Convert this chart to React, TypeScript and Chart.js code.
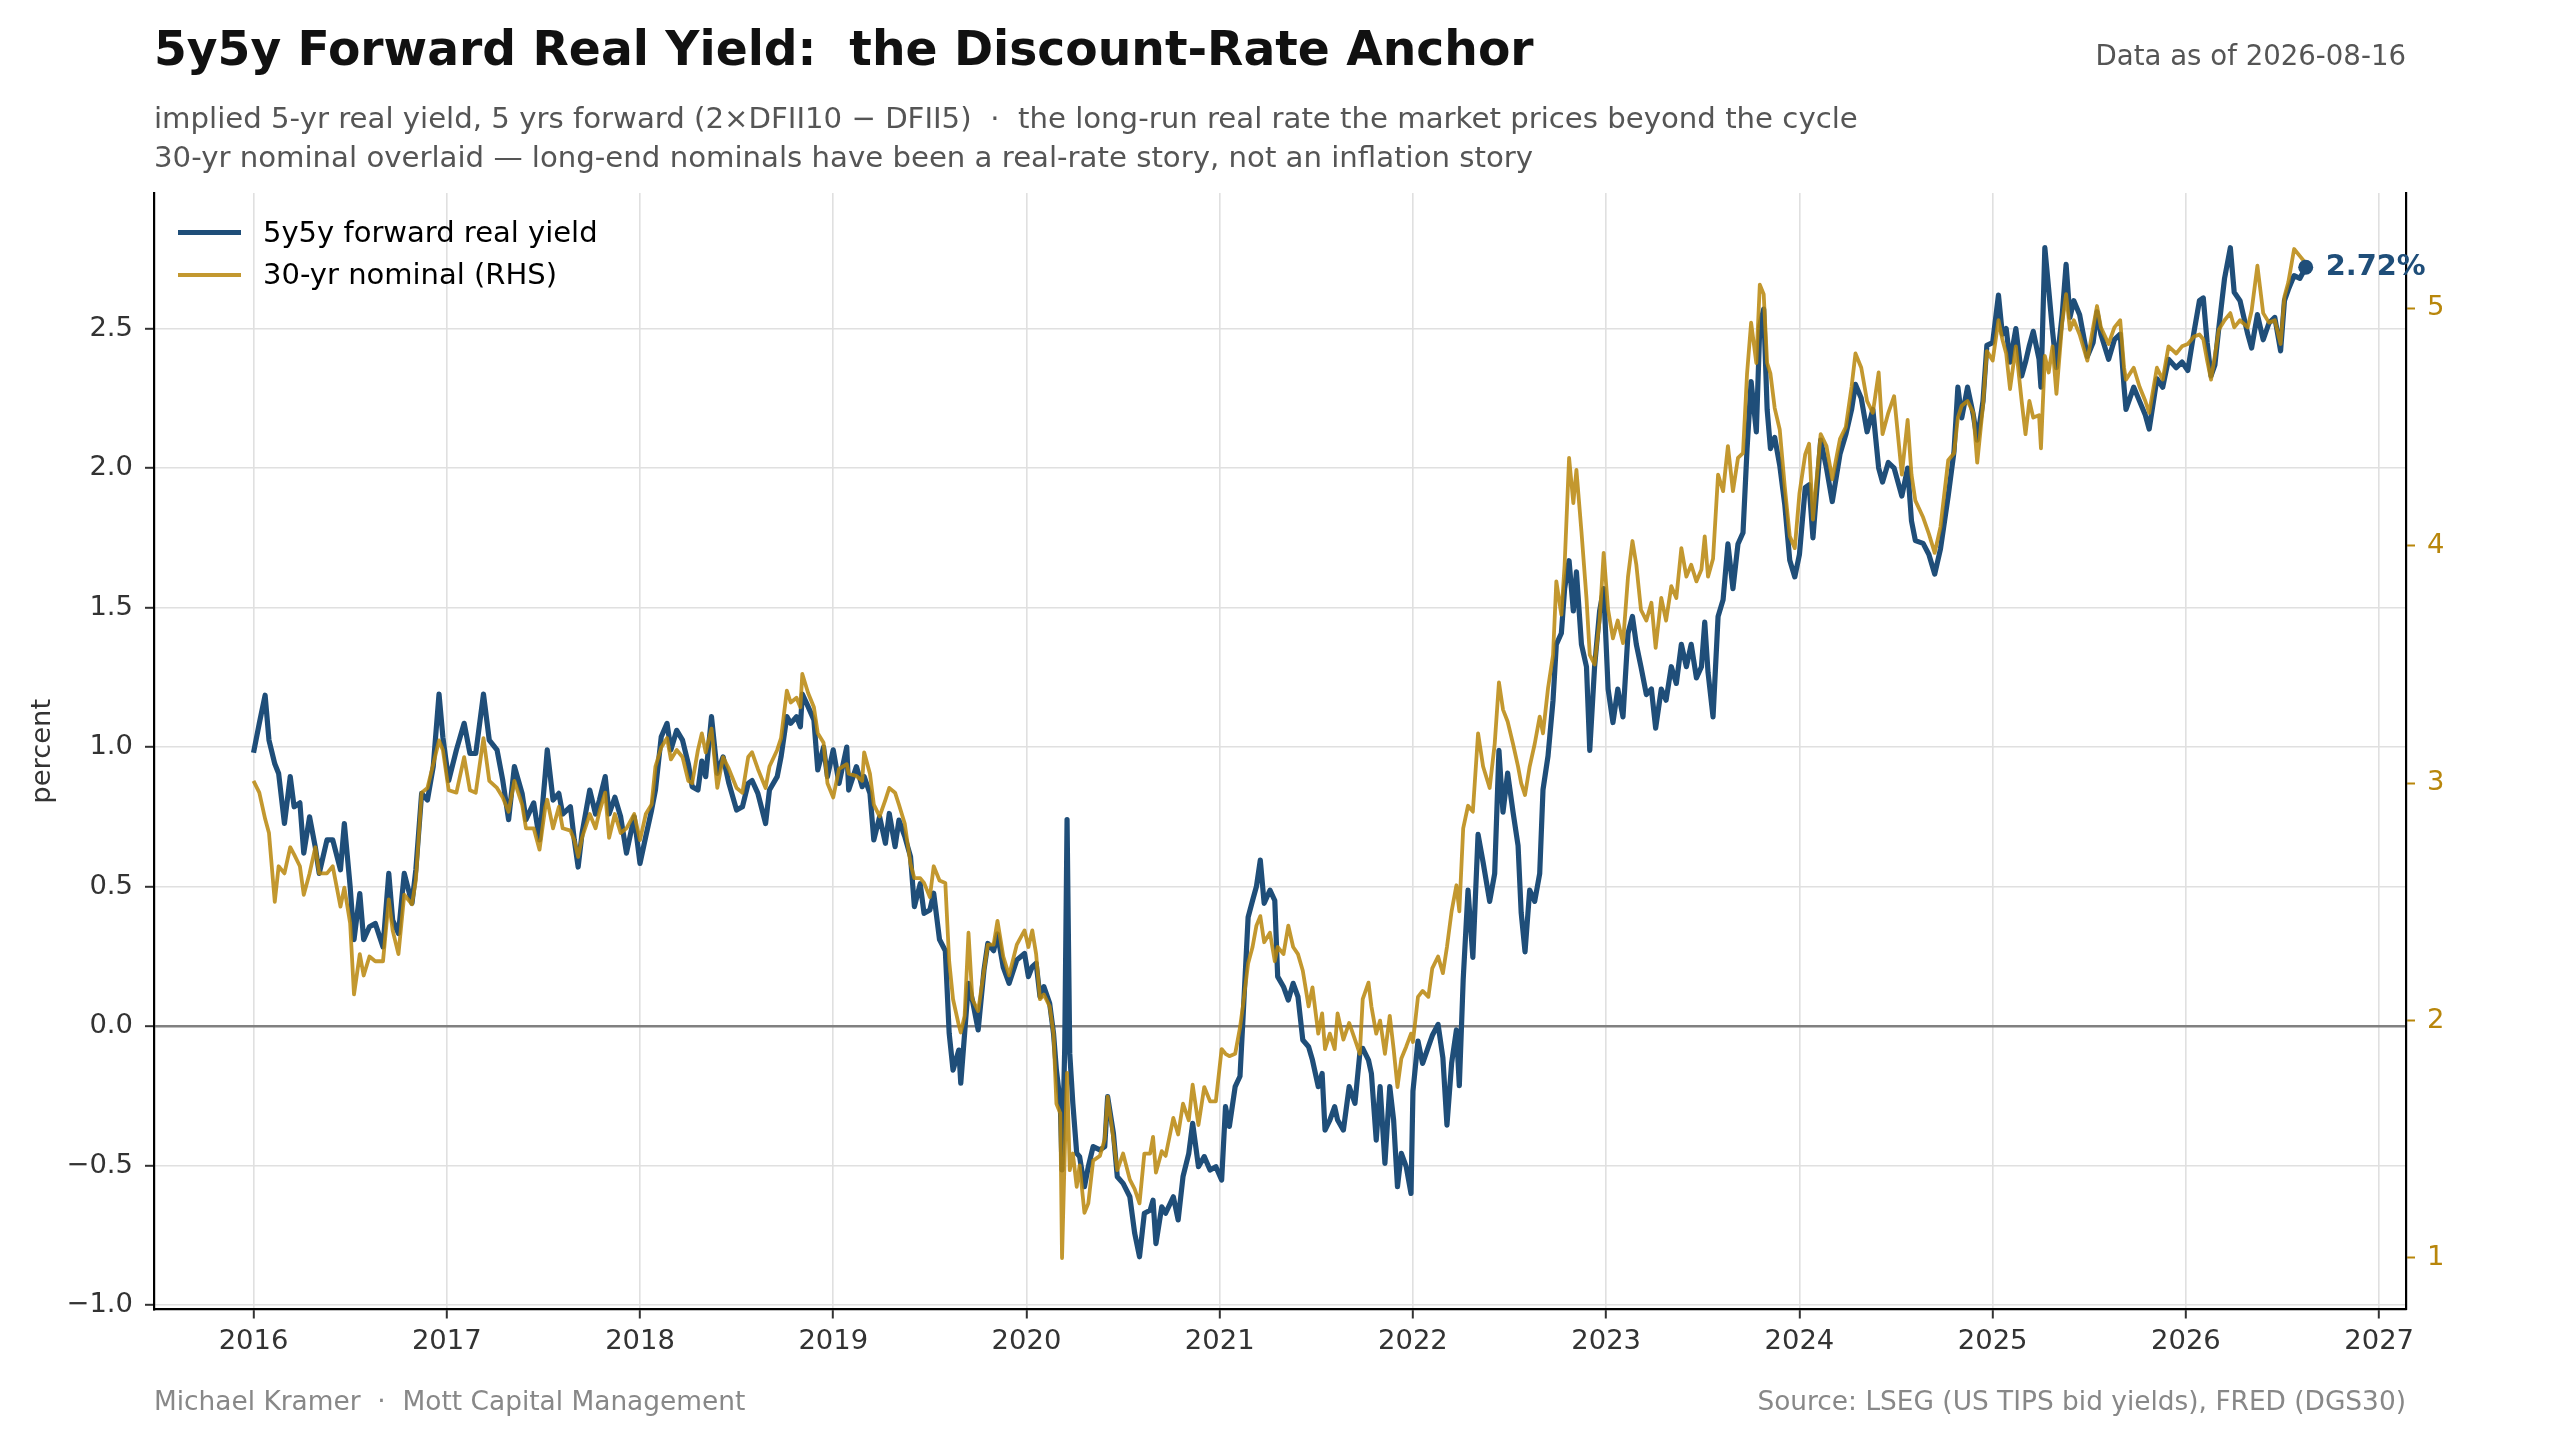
import { useEffect, useRef } from "react";
import { Chart, registerables } from "chart.js";

Chart.register(...registerables);

// decimal years (2016.50 ~ start of July 2016)
const dates = [
  2016.00, 2016.03, 2016.06, 2016.08, 2016.11, 2016.13, 2016.16, 2016.19, 2016.21, 2016.24, 2016.26, 2016.29, 2016.32, 2016.34, 2016.38, 2016.41, 2016.45, 2016.47, 2016.50, 2016.52, 2016.55, 2016.57, 2016.60, 2016.63, 2016.67, 2016.70, 2016.72, 2016.75, 2016.78, 2016.82, 2016.84, 2016.87, 2016.90, 2016.93, 2016.96, 2016.98,
  2017.01, 2017.05, 2017.09, 2017.12, 2017.15, 2017.19, 2017.22, 2017.26, 2017.29, 2017.32, 2017.35, 2017.39, 2017.41, 2017.45, 2017.48, 2017.51, 2017.52, 2017.55, 2017.58, 2017.60, 2017.64, 2017.66, 2017.68, 2017.70, 2017.74, 2017.77, 2017.79, 2017.82, 2017.84, 2017.87, 2017.90, 2017.93, 2017.97,
  2018.00, 2018.03, 2018.06, 2018.08, 2018.11, 2018.14, 2018.16, 2018.19, 2018.22, 2018.25, 2018.27, 2018.30, 2018.32, 2018.34, 2018.37, 2018.40, 2018.43, 2018.46, 2018.50, 2018.53, 2018.56, 2018.58, 2018.61, 2018.65, 2018.67, 2018.71, 2018.73, 2018.76, 2018.78, 2018.81, 2018.83, 2018.84, 2018.87, 2018.90, 2018.92, 2018.95, 2018.97,
  2019.00, 2019.03, 2019.07, 2019.08, 2019.12, 2019.15, 2019.16, 2019.19, 2019.21, 2019.24, 2019.27, 2019.29, 2019.32, 2019.34, 2019.37, 2019.40, 2019.42, 2019.45, 2019.47, 2019.50, 2019.52, 2019.55, 2019.58, 2019.60, 2019.62, 2019.65, 2019.66, 2019.68, 2019.70, 2019.72, 2019.75, 2019.78, 2019.80, 2019.83, 2019.85, 2019.88, 2019.91, 2019.95, 2019.99,
  2020.01, 2020.03, 2020.05, 2020.07, 2020.09, 2020.12, 2020.14, 2020.155, 2020.175, 2020.184, 2020.198, 2020.21, 2020.224, 2020.24, 2020.26, 2020.275, 2020.30, 2020.32, 2020.345, 2020.38, 2020.405, 2020.42, 2020.45, 2020.47, 2020.50, 2020.535, 2020.56, 2020.585, 2020.61, 2020.64, 2020.655, 2020.67, 2020.70, 2020.72, 2020.76, 2020.785, 2020.81, 2020.84, 2020.86, 2020.89, 2020.92, 2020.95, 2020.98,
  2021.01, 2021.03, 2021.05, 2021.08, 2021.105, 2021.12, 2021.147, 2021.17, 2021.19, 2021.21, 2021.23, 2021.26, 2021.285, 2021.30, 2021.33, 2021.355, 2021.38, 2021.405, 2021.43, 2021.46, 2021.48, 2021.51, 2021.53, 2021.545, 2021.57, 2021.595, 2021.61, 2021.64, 2021.67, 2021.70, 2021.725, 2021.74, 2021.77, 2021.785, 2021.81, 2021.83, 2021.855, 2021.88, 2021.90, 2021.92, 2021.94, 2021.965, 2021.99,
  2022.00, 2022.026, 2022.05, 2022.08, 2022.10, 2022.13, 2022.155, 2022.176, 2022.20, 2022.225, 2022.24, 2022.26, 2022.285, 2022.31, 2022.337, 2022.363, 2022.397, 2022.423, 2022.445, 2022.466, 2022.49, 2022.518, 2022.544, 2022.56, 2022.58, 2022.604, 2022.63, 2022.656, 2022.673, 2022.699, 2022.725, 2022.742, 2022.768, 2022.785, 2022.808, 2022.83, 2022.846, 2022.872, 2022.898, 2022.915, 2022.94, 2022.966, 2022.987,
  2023.01, 2023.035, 2023.06, 2023.087, 2023.113, 2023.136, 2023.156, 2023.18, 2023.208, 2023.234, 2023.256, 2023.285, 2023.31, 2023.337, 2023.363, 2023.389, 2023.415, 2023.44, 2023.467, 2023.493, 2023.51, 2023.527, 2023.553, 2023.579, 2023.605, 2023.63, 2023.656, 2023.682, 2023.708, 2023.729, 2023.75, 2023.777, 2023.795, 2023.815, 2023.833, 2023.85, 2023.872, 2023.898, 2023.924, 2023.95, 2023.976,
  2024.00, 2024.03, 2024.05, 2024.07, 2024.11, 2024.14, 2024.17, 2024.21, 2024.24, 2024.27, 2024.29, 2024.32, 2024.35, 2024.38, 2024.41, 2024.43, 2024.46, 2024.49, 2024.53, 2024.56, 2024.58, 2024.60, 2024.64, 2024.67, 2024.70, 2024.73, 2024.77, 2024.80, 2024.82, 2024.84, 2024.87, 2024.90, 2024.92, 2024.95, 2024.97,
  2025.00, 2025.03, 2025.05, 2025.07, 2025.09, 2025.12, 2025.15, 2025.17, 2025.19, 2025.21, 2025.24, 2025.25, 2025.27, 2025.29, 2025.31, 2025.33, 2025.36, 2025.38, 2025.40, 2025.42, 2025.45, 2025.49, 2025.52, 2025.54, 2025.56, 2025.60, 2025.63, 2025.66, 2025.68, 2025.69, 2025.73, 2025.76, 2025.79, 2025.81, 2025.85, 2025.88, 2025.91, 2025.95, 2025.98,
  2026.01, 2026.04, 2026.07, 2026.09, 2026.11, 2026.13, 2026.15, 2026.17, 2026.20, 2026.23, 2026.25, 2026.28, 2026.32, 2026.34, 2026.37, 2026.40, 2026.43, 2026.46, 2026.49, 2026.51, 2026.53, 2026.56, 2026.59, 2026.62,
];

// 5y5y forward real yield, % (left axis)
const realYield5y5y = [
  0.98, 1.085, 1.186, 1.025, 0.94, 0.905, 0.726, 0.894, 0.786, 0.80, 0.62, 0.75, 0.64, 0.547, 0.667, 0.667, 0.56, 0.726, 0.50, 0.31, 0.475, 0.31, 0.356, 0.368, 0.284, 0.547, 0.38, 0.332, 0.547, 0.44, 0.56, 0.834, 0.81, 0.93, 1.19, 1.035,
  0.88, 0.99, 1.085, 0.977, 0.977, 1.19, 1.025, 0.99, 0.88, 0.74, 0.93, 0.834, 0.74, 0.80, 0.667, 0.905, 0.99, 0.81, 0.834, 0.76, 0.786, 0.667, 0.57, 0.69, 0.846, 0.76, 0.81, 0.894, 0.76, 0.82, 0.75, 0.62, 0.75,
  0.583, 0.68, 0.774, 0.846, 1.037, 1.085, 0.99, 1.06, 1.025, 0.94, 0.858, 0.846, 0.95, 0.894, 1.109, 0.906, 0.965, 0.87, 0.774, 0.786, 0.87, 0.88, 0.834, 0.726, 0.846, 0.894, 0.965, 1.109, 1.085, 1.109, 1.073, 1.19, 1.145, 1.097, 0.918, 1.0, 0.894,
  0.99, 0.87, 1.0, 0.846, 0.93, 0.858, 0.894, 0.834, 0.667, 0.75, 0.655, 0.762, 0.643, 0.738, 0.68, 0.607, 0.428, 0.51, 0.404, 0.416, 0.476, 0.31, 0.27, -0.026, -0.158, -0.086, -0.205, -0.026, 0.153, 0.093, -0.014, 0.20, 0.296, 0.27, 0.33, 0.21, 0.153, 0.237, 0.26,
  0.177, 0.213, 0.225, 0.105, 0.141, 0.081, -0.026, -0.158, -0.277, -0.516, -0.074, 0.74, -0.098, -0.277, -0.456, -0.468, -0.576, -0.504, -0.432, -0.444, -0.432, -0.253, -0.385, -0.54, -0.564, -0.612, -0.743, -0.827, -0.671, -0.66, -0.624, -0.78, -0.648, -0.671, -0.612, -0.695, -0.54, -0.456, -0.349, -0.504, -0.468, -0.516, -0.504,
  -0.552, -0.289, -0.36, -0.217, -0.18, 0.02, 0.39, 0.45, 0.50, 0.595, 0.44, 0.487, 0.45, 0.177, 0.141, 0.093, 0.153, 0.105, -0.05, -0.074, -0.122, -0.217, -0.17, -0.373, -0.337, -0.289, -0.337, -0.373, -0.217, -0.277, -0.098, -0.08, -0.122, -0.17, -0.409, -0.217, -0.492, -0.217, -0.337, -0.576, -0.456, -0.504, -0.6,
  -0.234, -0.054, -0.134, -0.074, -0.034, 0.006, -0.114, -0.355, -0.134, -0.014, -0.214, 0.166, 0.487, 0.246, 0.687, 0.587, 0.447, 0.547, 0.988, 0.767, 0.907, 0.767, 0.647, 0.407, 0.266, 0.487, 0.447, 0.547, 0.847, 0.968, 1.168, 1.368, 1.408, 1.568, 1.668, 1.488, 1.628, 1.368, 1.288, 0.988, 1.288, 1.488, 1.568,
  1.208, 1.088, 1.208, 1.108, 1.408, 1.468, 1.368, 1.288, 1.188, 1.208, 1.068, 1.208, 1.168, 1.288, 1.228, 1.368, 1.288, 1.368, 1.248, 1.288, 1.448, 1.268, 1.108, 1.468, 1.528, 1.728, 1.568, 1.728, 1.768, 2.069, 2.31, 2.13, 2.51, 2.57, 2.21, 2.07, 2.11, 2.01, 1.87, 1.67, 1.61,
  1.69, 1.93, 1.94, 1.75, 2.10, 2.00, 1.88, 2.05, 2.12, 2.21, 2.30, 2.25, 2.13, 2.21, 2.00, 1.95, 2.02, 2.00, 1.90, 2.00, 1.81, 1.74, 1.73, 1.69, 1.62, 1.71, 1.90, 2.06, 2.29, 2.18, 2.29, 2.19, 2.10, 2.24, 2.44,
  2.45, 2.62, 2.48, 2.50, 2.38, 2.50, 2.33, 2.38, 2.44, 2.49, 2.39, 2.29, 2.79, 2.64, 2.49, 2.36, 2.55, 2.73, 2.54, 2.60, 2.55, 2.40, 2.45, 2.56, 2.48, 2.39, 2.46, 2.48, 2.29, 2.21, 2.29, 2.24, 2.19, 2.14, 2.32, 2.29, 2.39, 2.36, 2.38,
  2.35, 2.48, 2.60, 2.61, 2.45, 2.33, 2.37, 2.50, 2.68, 2.79, 2.63, 2.60, 2.48, 2.43, 2.55, 2.46, 2.52, 2.54, 2.42, 2.60, 2.64, 2.69, 2.68, 2.72,
];

// 30-yr nominal Treasury yield, % (right axis)
const nominal30y = [
  3.01, 2.96, 2.85, 2.79, 2.50, 2.65, 2.62, 2.73, 2.70, 2.65, 2.53, 2.62, 2.73, 2.62, 2.62, 2.65, 2.48, 2.56, 2.41, 2.11, 2.28, 2.19, 2.27, 2.25, 2.25, 2.51, 2.38, 2.28, 2.53, 2.49, 2.59, 2.96, 2.98, 3.08, 3.18, 3.14,
  2.97, 2.96, 3.11, 2.97, 2.96, 3.19, 3.01, 2.98, 2.94, 2.88, 3.01, 2.91, 2.81, 2.81, 2.72, 2.90, 2.93, 2.81, 2.90, 2.81, 2.80, 2.76, 2.69, 2.77, 2.87, 2.81, 2.88, 2.96, 2.77, 2.87, 2.79, 2.81, 2.87,
  2.76, 2.87, 2.91, 3.07, 3.15, 3.19, 3.10, 3.14, 3.11, 3.01, 3.00, 3.14, 3.21, 3.13, 3.23, 2.98, 3.11, 3.06, 2.98, 2.96, 3.11, 3.13, 3.06, 2.98, 3.07, 3.14, 3.19, 3.39, 3.34, 3.36, 3.32, 3.46, 3.38, 3.32, 3.21, 3.17, 3.00,
  2.94, 3.06, 3.08, 3.04, 3.03, 3.01, 3.13, 3.04, 2.91, 2.86, 2.93, 2.98, 2.96, 2.91, 2.83, 2.66, 2.60, 2.60, 2.58, 2.52, 2.65, 2.59, 2.58, 2.25, 2.09, 1.98, 1.95, 2.02, 2.37, 2.09, 2.04, 2.21, 2.32, 2.32, 2.42, 2.27, 2.19, 2.32, 2.38,
  2.31, 2.38, 2.28, 2.09, 2.11, 2.06, 1.945, 1.65, 1.61, 1.0, 1.44, 1.78, 1.37, 1.44, 1.30, 1.39, 1.19, 1.23, 1.41, 1.43, 1.50, 1.68, 1.50, 1.37, 1.44, 1.33, 1.29, 1.23, 1.44, 1.44, 1.51, 1.36, 1.45, 1.43, 1.59, 1.52, 1.65, 1.58, 1.73, 1.56, 1.72, 1.66, 1.66,
  1.88, 1.86, 1.85, 1.86, 1.97, 2.06, 2.24, 2.31, 2.40, 2.44, 2.33, 2.37, 2.25, 2.31, 2.28, 2.40, 2.31, 2.28, 2.21, 2.06, 2.14, 1.945, 2.03, 1.88, 1.945, 1.88, 2.03, 1.92, 1.99, 1.92, 1.86, 2.09, 2.16, 2.06, 1.945, 2.0, 1.86, 2.02, 1.88, 1.72, 1.84, 1.89, 1.945,
  1.91, 2.10, 2.125, 2.10, 2.22, 2.27, 2.20, 2.31, 2.46, 2.57, 2.46, 2.81, 2.905, 2.88, 3.21, 3.07, 2.98, 3.165, 3.425, 3.31, 3.26, 3.165, 3.07, 3.00, 2.95, 3.07, 3.165, 3.28, 3.21, 3.40, 3.54, 3.85, 3.71, 3.92, 4.37, 4.18, 4.32, 4.06, 3.78, 3.54, 3.50, 3.685, 3.97,
  3.73, 3.61, 3.685, 3.59, 3.87, 4.02, 3.92, 3.73, 3.685, 3.76, 3.57, 3.78, 3.685, 3.83, 3.78, 3.99, 3.87, 3.92, 3.85, 3.90, 4.04, 3.87, 3.945, 4.30, 4.23, 4.42, 4.23, 4.37, 4.39, 4.725, 4.94, 4.77, 5.10, 5.06, 4.77, 4.725, 4.58, 4.49, 4.25, 4.04, 3.99,
  4.22, 4.385, 4.43, 4.11, 4.47, 4.42, 4.28, 4.45, 4.50, 4.67, 4.81, 4.75, 4.61, 4.56, 4.73, 4.47, 4.56, 4.63, 4.30, 4.53, 4.30, 4.19, 4.12, 4.05, 3.97, 4.08, 4.36, 4.39, 4.54, 4.59, 4.61, 4.56, 4.35, 4.59, 4.82,
  4.78, 4.95, 4.87, 4.81, 4.66, 4.84, 4.61, 4.47, 4.61, 4.54, 4.55, 4.41, 4.80, 4.73, 4.84, 4.64, 4.94, 5.06, 4.91, 4.95, 4.89, 4.78, 4.92, 5.01, 4.92, 4.85, 4.92, 4.95, 4.75, 4.70, 4.75, 4.67, 4.61, 4.56, 4.75, 4.70, 4.84, 4.81, 4.84,
  4.85, 4.88, 4.89, 4.87, 4.78, 4.70, 4.80, 4.91, 4.95, 4.98, 4.92, 4.95, 4.92, 4.99, 5.18, 4.98, 4.94, 4.95, 4.85, 5.05, 5.11, 5.25, 5.22, 5.19,
];

const yearTicks = [2016, 2017, 2018, 2019, 2020, 2021, 2022, 2023, 2024, 2025, 2026, 2027];
const leftTicks = [-1, -0.5, 0, 0.5, 1, 1.5, 2, 2.5];
const rightTicks = [1, 2, 3, 4, 5];

const BLUE = "#1f4e79";
const GOLD = "rgba(184, 134, 11, 0.85)";
const GOLD_TEXT = "#b8860b";
const FONT = "'DejaVu Sans', sans-serif";

const W = 2560;
const H = 1440;
// plot box in page pixels
const AREA = { left: 154, right: 2406, top: 193, bottom: 1309.5 };

const fmtLeft = (v: number) => (v < 0 ? "\u2212" : "") + Math.abs(v).toFixed(1);

// dot + value label at the last real-yield point
const endLabel = {
  id: "endLabel",
  afterDatasetsDraw(chart: any) {
    const meta = chart.getDatasetMeta(0);
    const pt = meta.data[meta.data.length - 1];
    if (!pt) return;
    const ctx = chart.ctx;
    ctx.save();
    ctx.fillStyle = BLUE;
    ctx.beginPath();
    ctx.arc(pt.x, pt.y, 7.5, 0, Math.PI * 2);
    ctx.fill();
    ctx.font = `bold 28.8px ${FONT}`;
    ctx.textAlign = "left";
    ctx.textBaseline = "alphabetic";
    ctx.fillText(`${realYield5y5y[realYield5y5y.length - 1].toFixed(2)}%`, pt.x + 20, pt.y + 7.5);
    ctx.restore();
  },
};

type TextProps = {
  x: number;
  base: number;
  size: number;
  color: string;
  bold?: boolean;
  right?: boolean;
  children: string;
};

// places a line of text by its baseline (DejaVu Sans, line-height 1)
const Text = ({ x, base, size, color, bold, right, children }: TextProps) => (
  <div
    style={{
      position: "absolute",
      left: right ? undefined : x,
      right: right ? W - x : undefined,
      top: base - 0.846 * size,
      fontFamily: FONT,
      fontSize: size,
      lineHeight: `${size}px`,
      fontWeight: bold ? "bold" : "normal",
      color,
      whiteSpace: "pre",
    }}
  >
    {children}
  </div>
);

export default function App() {
  const canvasRef = useRef<HTMLCanvasElement | null>(null);

  useEffect(() => {
    if (!canvasRef.current) return;
    Chart.defaults.font.family = FONT;
    Chart.defaults.color = "#333";

    const chart = new Chart(canvasRef.current, {
      type: "line",
      data: {
        datasets: [
          {
            label: "5y5y forward real yield",
            data: dates.map((x, i) => ({ x, y: realYield5y5y[i] })),
            yAxisID: "y",
            borderColor: BLUE,
            borderWidth: 5.2,
            borderJoinStyle: "round",
            pointRadius: 0,
            tension: 0,
            order: 1,
          },
          {
            label: "30-yr nominal (RHS)",
            data: dates.map((x, i) => ({ x, y: nominal30y[i] })),
            yAxisID: "y1",
            borderColor: GOLD,
            borderWidth: 3.8,
            borderJoinStyle: "round",
            pointRadius: 0,
            tension: 0,
            order: 0,
          },
        ],
      },
      options: {
        responsive: false,
        animation: false,
        devicePixelRatio: 1,
        events: [],
        layout: { padding: { top: AREA.top, left: 0, right: 0, bottom: 0 } },
        plugins: {
          legend: { display: false },
          tooltip: { enabled: false },
        },
        scales: {
          x: {
            type: "linear",
            min: 2015.485,
            max: 2027.139,
            afterBuildTicks: (s: any) => {
              s.ticks = yearTicks.map(value => ({ value }));
            },
            afterFit: (s: any) => {
              s.height = H - AREA.bottom;
            },
            ticks: {
              autoSkip: false,
              maxRotation: 0,
              padding: 7,
              color: "#333",
              font: { size: 27.4 },
              callback: (v: any) => String(v),
            },
            grid: { color: "#e0e0e0", lineWidth: 1.6, tickColor: "#333", tickLength: 9, tickWidth: 2 },
            border: { color: "#000", width: 2.2 },
          },
          y: {
            type: "linear",
            position: "left",
            min: -1.016,
            max: 2.986,
            afterBuildTicks: (s: any) => {
              s.ticks = leftTicks.map(value => ({ value }));
            },
            afterFit: (s: any) => {
              s.width = AREA.left;
            },
            ticks: {
              padding: 12,
              color: "#333",
              font: { size: 27.4 },
              callback: (v: any) => fmtLeft(Number(v)),
            },
            grid: {
              color: (c: any) => (c.tick && c.tick.value === 0 ? "#808080" : "#e0e0e0"),
              lineWidth: (c: any) => (c.tick && c.tick.value === 0 ? 2.4 : 1.6),
              tickColor: "#333",
              tickLength: 9,
              tickWidth: 2,
            },
            border: { color: "#000", width: 2.2 },
            title: {
              display: true,
              text: "percent",
              color: "#333",
              font: { size: 27.4 },
              padding: { top: 26, bottom: 0 },
            },
          },
          y1: {
            type: "linear",
            position: "right",
            min: 0.783,
            max: 5.486,
            afterBuildTicks: (s: any) => {
              s.ticks = rightTicks.map(value => ({ value }));
            },
            afterFit: (s: any) => {
              s.width = W - AREA.right;
            },
            ticks: {
              padding: 12,
              color: GOLD_TEXT,
              font: { size: 27.4 },
              callback: (v: any) => String(v),
            },
            grid: { drawOnChartArea: false, tickColor: GOLD_TEXT, tickLength: 9, tickWidth: 2 },
            border: { color: "#000", width: 2.2 },
          },
        },
      },
      plugins: [endLabel],
    } as any);

    return () => {
      chart.destroy();
    };
  }, []);

  return (
    <div style={{ position: "fixed", left: 0, top: 0, width: W, height: H, background: "#fff", overflow: "hidden" }}>
      <canvas ref={canvasRef} width={W} height={H} style={{ position: "absolute", left: 0, top: 0, width: W, height: H }} />

      <Text x={154} base={65} size={47.2} color="#111" bold>
        {"5y5y Forward Real Yield:  the Discount-Rate Anchor"}
      </Text>
      <Text x={2406} base={65.5} size={27.6} color="#555" right>
        {"Data as of 2026-08-16"}
      </Text>
      <Text x={154} base={129} size={29.2} color="#555">
        {"implied 5-yr real yield, 5 yrs forward (2×DFII10 − DFII5)  ·  the long-run real rate the market prices beyond the cycle"}
      </Text>
      <Text x={154} base={168} size={29.2} color="#555">
        {"30-yr nominal overlaid — long-end nominals have been a real-rate story, not an inflation story"}
      </Text>

      {/* legend */}
      <div style={{ position: "absolute", left: 178, top: 232 - 2.5, width: 63, height: 5, background: BLUE }} />
      <Text x={263} base={242.7} size={29} color="#000">
        {"5y5y forward real yield"}
      </Text>
      <div style={{ position: "absolute", left: 178, top: 275 - 2, width: 63, height: 4, background: GOLD }} />
      <Text x={263} base={284.3} size={29} color="#000">
        {"30-yr nominal (RHS)"}
      </Text>

      <Text x={154} base={1410.7} size={26.4} color="#888">
        {"Michael Kramer  ·  Mott Capital Management"}
      </Text>
      <Text x={2406} base={1410.7} size={26.4} color="#888" right>
        {"Source: LSEG (US TIPS bid yields), FRED (DGS30)"}
      </Text>
    </div>
  );
}
